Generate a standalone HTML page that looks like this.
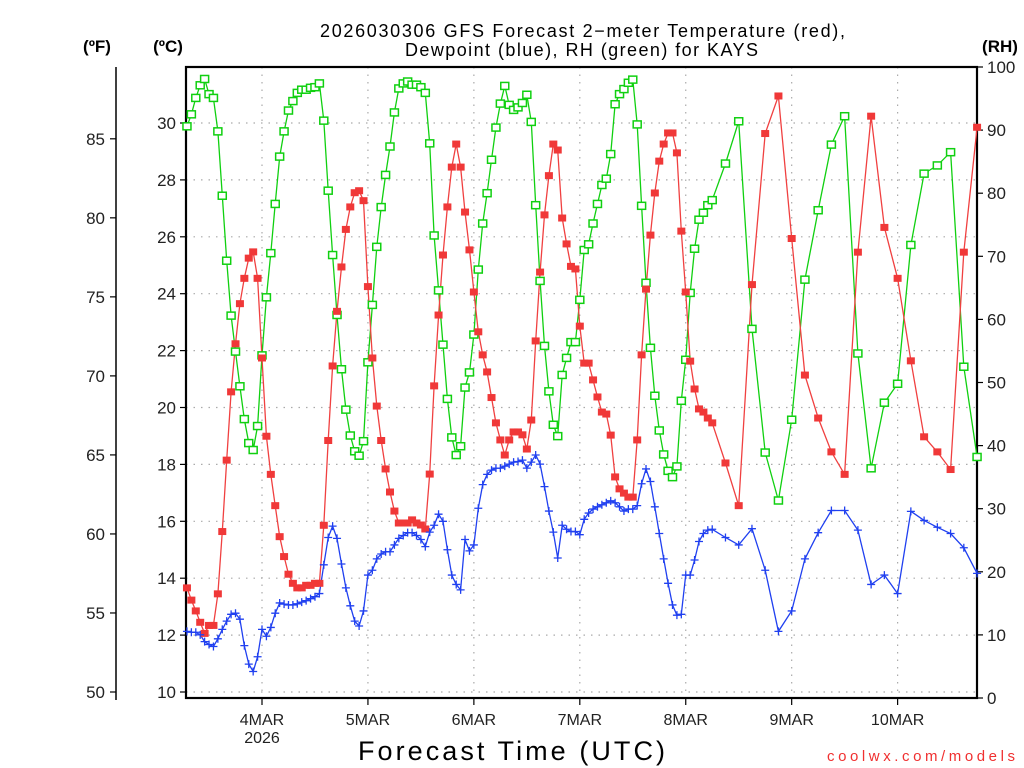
<!DOCTYPE html>
<html><head><meta charset="utf-8"><style>
html,body{margin:0;padding:0;background:#fff;}
svg{display:block;font-family:"Liberation Sans",sans-serif;}
</style></head><body>
<svg id="chart" width="1024" height="768" viewBox="0 0 1024 768" xmlns="http://www.w3.org/2000/svg">
<rect width="1024" height="768" fill="#fff"/>
<g id="grid"></g>
<g id="axes"></g>
<g id="series"></g>
<text x="320" y="37" font-size="18" textLength="525" lengthAdjust="spacing" fill="#000">2026030306 GFS Forecast 2−meter Temperature (red),</text>
<text x="405" y="56" font-size="18" textLength="353" lengthAdjust="spacing" fill="#000">Dewpoint (blue), RH (green) for KAYS</text>
<text x="97" y="52" font-size="17" font-weight="bold" text-anchor="middle">(ºF)</text>
<text x="168" y="52" font-size="17" font-weight="bold" text-anchor="middle">(ºC)</text>
<text x="1000" y="52" font-size="17" font-weight="bold" text-anchor="middle">(RH)</text>
<text x="358" y="760" font-size="27" textLength="307" lengthAdjust="spacing">Forecast Time (UTC)</text>
<text x="827" y="761" font-size="15" textLength="188" lengthAdjust="spacing" fill="#f03030">coolwx.com/models</text>
</svg>
<script>
// Temperature (°C), hourly h=7..126 then 3-hourly h=129..186 (hours since 3 Mar 00Z)
const tempHourly = [13.66,13.23,12.85,12.45,12.06,12.34,12.34,13.45,15.64,18.15,20.55,22.24,23.65,24.54,25.25,25.47,24.54,21.74,18.99,17.65,16.55,15.46,14.76,14.14,13.82,13.66,13.66,13.75,13.75,13.82,13.82,15.86,18.84,21.46,23.38,24.94,26.26,27.05,27.55,27.62,27.27,24.25,21.74,20.05,18.84,
17.84,17.03,16.36,15.94,15.94,15.94,16.05,15.94,15.87,15.73,17.66,20.76,23.25,25.36,27.05,28.45,29.26,28.45,26.87,25.54,24.06,22.66,21.85,21.25,20.35,19.46,18.86,18.33,18.86,19.14,19.14,19.04,18.54,19.56,22.34,24.76,26.77,28.15,29.26,
29.05,26.66,25.75,24.96,24.87,22.86,21.56,21.56,20.97,20.37,19.84,19.77,19.03,17.56,17.14,16.99,16.85,16.85,18.86,21.85,24.16,26.06,27.54,28.66,29.26,29.65,29.65,28.95,26.2,24.06,21.63,20.65,19.95,19.84,19.63,19.46];
const temp3h = [18.05,16.55,24.32,29.63,30.95,25.94,21.14,19.63,18.44,17.65,25.46,30.24,26.33,24.54,21.64,18.97,18.44,17.82,25.46,29.85];
// Dewpoint (°C)
const dewHourly = [12.13,12.10,12.10,12.01,11.77,11.67,11.60,11.87,12.20,12.49,12.73,12.77,12.56,11.63,10.98,10.72,11.24,12.20,11.96,12.27,12.77,13.13,13.09,13.06,13.06,13.10,13.16,13.21,13.28,13.35,13.46,14.47,15.43,15.83,15.40,14.50,13.66,13.03,12.49,12.32,12.85,14.11,14.28,14.68,14.85,
14.93,14.93,15.17,15.40,15.50,15.60,15.60,15.50,15.36,15.11,15.62,15.86,16.25,16.00,15.0,14.11,13.78,13.59,15.36,14.96,15.17,16.46,17.29,17.65,17.80,17.87,17.87,17.94,18.01,18.08,18.10,18.15,17.87,18.08,18.33,18.01,17.22,16.36,15.62,
14.71,15.86,15.72,15.64,15.64,15.53,16.07,16.29,16.43,16.51,16.58,16.65,16.72,16.65,16.51,16.36,16.43,16.43,16.55,17.32,17.84,17.40,16.51,15.57,14.68,13.82,13.06,12.70,12.73,14.11,14.11,14.64,15.29,15.57,15.69,15.72];
const dew3h = [15.43,15.17,15.74,14.28,12.13,12.85,14.68,15.6,16.38,16.38,15.69,13.78,14.11,13.46,16.35,16.03,15.79,15.57,15.07,14.17];
// Relative humidity (%)
const rhHourly = [90.6,92.5,95.1,97.1,98.1,95.7,95.1,89.8,79.6,69.3,60.6,54.9,49.4,44.2,40.4,39.3,43.1,54.3,63.5,70.5,78.3,85.8,89.8,93.1,94.6,95.9,96.4,96.4,96.7,96.8,97.4,91.5,80.4,70.2,60.7,52.1,45.7,41.6,39.1,38.4,40.7,53.2,62.3,71.5,77.8,
82.9,87.4,92.8,96.6,97.4,97.7,97.2,97.2,96.8,95.9,87.9,73.3,64.6,56.0,47.4,41.3,38.5,39.9,49.2,51.6,57.6,67.9,75.2,80.0,85.3,90.4,94.2,97.0,94.0,93.2,93.6,94.3,95.6,91.3,78.1,66.1,55.8,48.6,43.3,
41.5,51.2,53.9,56.4,56.4,63.1,71.0,71.9,75.2,78.3,81.3,82.3,86.2,94.1,95.7,96.5,97.5,98.0,90.9,78.0,65.8,55.5,47.9,42.4,38.6,36.0,35.0,36.7,47.1,53.6,64.2,71.2,75.8,76.9,78.1,78.9];
const rh3h = [84.7,91.4,58.5,38.9,31.3,44.1,66.3,77.3,87.7,92.2,54.6,36.4,46.8,49.8,71.8,83.1,84.4,86.5,52.5,38.2];
const dayLabels = ["4MAR","5MAR","6MAR","7MAR","8MAR","9MAR","10MAR"];
const celsiusTicks = [10,12,14,16,18,20,22,24,26,28,30];
const fahrenheitTicks = [50,55,60,65,70,75,80,85];
const rhTicks = [0,10,20,30,40,50,60,70,80,90,100];

const NS="http://www.w3.org/2000/svg";
const L=186,R=977,T=67,B=698;
function xH(h){return 262+(h-24)*4.414;}
function yC(c){return 692-(c-10)*28.45;}
function yF(f){return yC((f-32)*5/9);}
function yRH(r){return B-r*6.31;}
function mk(tag,attrs,parent){const e=document.createElementNS(NS,tag);for(const k in attrs)e.setAttribute(k,attrs[k]);parent.appendChild(e);return e;}
const hours=[];for(let h=7;h<=126;h++)hours.push(h);
const hours3=[];for(let h=129;h<=186;h+=3)hours3.push(h);
const allH=hours.concat(hours3);
const grid=document.getElementById('grid'),axes=document.getElementById('axes'),series=document.getElementById('series');

celsiusTicks.forEach(c=>{const y=yC(c);
 const g=mk('line',{x1:L,x2:R,y1:y,y2:y,stroke:'#aaa','stroke-width':1.2,'stroke-dasharray':'1.5 6'},grid);
 
 
 const t=mk('line',{x1:L-6,x2:L,y1:y,y2:y,stroke:'#000','stroke-width':1.2},axes);
 
 
 const lb=mk('text',{x:L-10,y:y+6,'font-size':17,'text-anchor':'end',fill:'#222'},axes);lb.textContent=c;
 
 
});
dayLabels.forEach((d,i)=>{const x=xH(24*(i+1));
 const g=mk('line',{x1:x,x2:x,y1:T,y2:B,stroke:'#aaa','stroke-width':1.2,'stroke-dasharray':'1.5 6'},grid);
 
 
 const t=mk('line',{x1:x,x2:x,y1:B,y2:B+7,stroke:'#000','stroke-width':1.2},axes);
 
 
 const lb=mk('text',{x:x,y:725,'font-size':16,'text-anchor':'middle',fill:'#222'},axes);lb.textContent=d;
 
 
});
const yr=mk('text',{x:xH(24),y:743,'font-size':16,'text-anchor':'middle',fill:'#222'},axes);yr.textContent='2026';


const fr=mk('rect',{x:L,y:T,width:R-L,height:B-T,fill:'none',stroke:'#000','stroke-width':2.2},axes);


const fa=mk('line',{x1:116,x2:116,y1:T,y2:B+2,stroke:'#000','stroke-width':1.5},axes);


fahrenheitTicks.forEach(f=>{const y=yF(f);
 const t=mk('line',{x1:110,x2:116,y1:y,y2:y,stroke:'#000','stroke-width':1.2},axes);
 
 
 const lb=mk('text',{x:105,y:y+6,'font-size':17,'text-anchor':'end',fill:'#222'},axes);lb.textContent=f;
 
 
});
rhTicks.forEach(r=>{const y=yRH(r);
 const t=mk('line',{x1:R,x2:R+6,y1:y,y2:y,stroke:'#000','stroke-width':1.2},axes);
 
 
 const lb=mk('text',{x:R+10,y:y+6,'font-size':17,'text-anchor':'start',fill:'#222'},axes);lb.textContent=r;
 
 
});

function drawLine(vals,fy,color,name){
 const pts=vals.map((v,i)=>xH(allH[i]).toFixed(1)+','+fy(v).toFixed(1)).join(' ');
 const p=mk('polyline',{points:pts,fill:'none',stroke:color,'stroke-width':1.3},series);
 
 
}
const rhAll=rhHourly.concat(rh3h), tAll=tempHourly.concat(temp3h), dAll=dewHourly.concat(dew3h);
drawLine(rhAll,yRH,'#10d010','rh-line');
drawLine(tAll,yC,'#f04040','temperature-line');
drawLine(dAll,yC,'#2040f0','dewpoint-line');
rhAll.forEach((v,i)=>{const x=xH(allH[i]),y=yRH(v);
 const m=mk('rect',{x:x-4,y:y-3.5,width:8,height:7,fill:'#fff',stroke:'#10d010','stroke-width':1.5},series);
 
 
});
tAll.forEach((v,i)=>{const x=xH(allH[i]),y=yC(v);
 const m=mk('rect',{x:x-4,y:y-3.5,width:8,height:7,fill:'#f03838'},series);
 
 
});
dAll.forEach((v,i)=>{const x=xH(allH[i]),y=yC(v);
 const m=mk('path',{d:`M${x-4},${y}H${x+4}M${x},${y-4}V${y+4}`,stroke:'#2040f0','stroke-width':1.3,fill:'none'},series);
 
 
});
</script>
</body></html>
